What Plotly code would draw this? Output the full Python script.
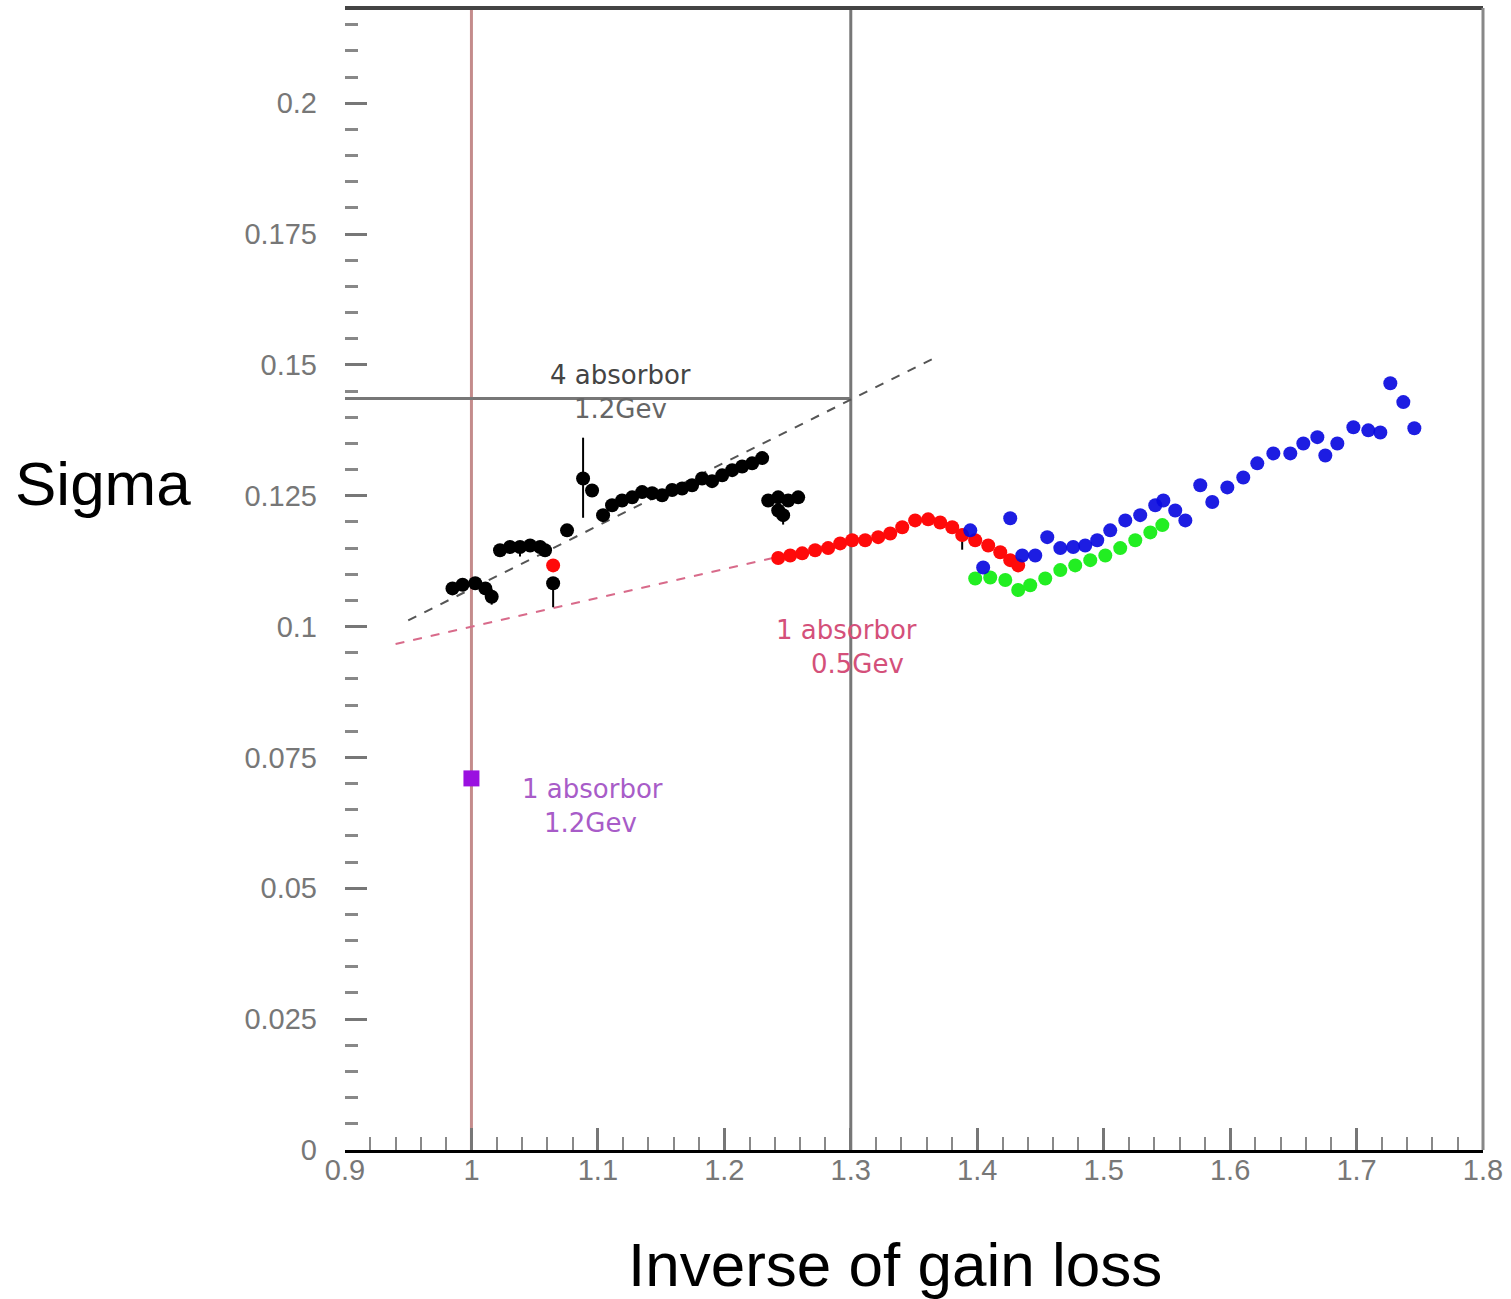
import plotly.graph_objects as go

# ---- data ----
black_x = [0.985, 0.993, 1.003, 1.011, 1.016,
           1.0226, 1.0305, 1.0384, 1.0464, 1.0543, 1.0582,
           1.0646, 1.0756, 1.0883, 1.0954,
           1.1041, 1.1112, 1.1191, 1.1271, 1.135, 1.1429, 1.1508, 1.1587, 1.1666,
           1.1745, 1.1824, 1.1903, 1.1983, 1.2062, 1.2141, 1.222, 1.2299,
           1.2347, 1.2426, 1.2505, 1.2584, 1.2426, 1.2465]
black_y = [0.1073, 0.108, 0.1083, 0.1073, 0.1057,
           0.1146, 0.1152, 0.1152, 0.1155, 0.1152, 0.1146,
           0.1083, 0.1184, 0.1283, 0.126,
           0.1213, 0.1232, 0.1241, 0.1247, 0.1257, 0.1255, 0.1251, 0.1261, 0.1264,
           0.127, 0.1283, 0.1278, 0.1289, 0.1299, 0.1306, 0.1312, 0.1322,
           0.1241, 0.1247, 0.1241, 0.1247, 0.1222, 0.1213]
black_err_plus = [0, 0, 0, 0, 0.0015,
                  0, 0, 0, 0, 0, 0,
                  0, 0, 0.0078, 0,
                  0, 0, 0, 0, 0, 0, 0, 0, 0,
                  0, 0, 0, 0, 0, 0, 0, 0,
                  0, 0, 0, 0, 0, 0.0008]
black_err_minus = [0, 0, 0, 0, 0.0015,
                   0, 0, 0.0018, 0, 0, 0,
                   0.0046, 0, 0.0075, 0,
                   0, 0, 0, 0, 0, 0, 0, 0, 0,
                   0, 0, 0, 0, 0, 0, 0, 0,
                   0, 0, 0, 0, 0, 0.0018]

red_x = [1.0646, 1.2426, 1.2521, 1.2616, 1.2718, 1.2821, 1.2916, 1.3011, 1.3114,
         1.3217, 1.3312, 1.3407, 1.3509, 1.3612, 1.3707, 1.3802, 1.3881, 1.3984,
         1.4087, 1.4182, 1.4261, 1.4324]
red_y = [0.1117, 0.1131, 0.1136, 0.114, 0.1146, 0.115, 0.1159, 0.1165, 0.1165,
         0.1171, 0.1178, 0.119, 0.1203, 0.1205, 0.1199, 0.119, 0.1175, 0.1165,
         0.1155, 0.1142, 0.1127, 0.1117]
red_err_minus = [0, 0, 0, 0, 0, 0, 0, 0, 0,
                 0, 0, 0, 0, 0, 0, 0, 0.0028, 0,
                 0, 0, 0, 0]

green_x = [1.3984, 1.4103, 1.4222, 1.4324, 1.4419, 1.4538, 1.4657, 1.4775,
           1.4894, 1.5013, 1.5131, 1.525, 1.5369, 1.5464]
green_y = [0.1092, 0.1094, 0.1089, 0.107, 0.1079, 0.1092, 0.1108, 0.1117,
           0.1127, 0.1136, 0.115, 0.1165, 0.118, 0.1194]

blue_x = [1.3945, 1.4047, 1.4261, 1.4356, 1.4459, 1.4554, 1.4657, 1.4759, 1.4854,
          1.4949, 1.5052, 1.5171, 1.5289, 1.5408, 1.5472, 1.5566, 1.5646, 1.5764,
          1.5859, 1.5978, 1.6104, 1.6215, 1.6342, 1.6476, 1.6579, 1.669, 1.6753,
          1.6848, 1.6975, 1.7093, 1.7188, 1.7267, 1.737, 1.7457]
blue_y = [0.1184, 0.1113, 0.1207, 0.1136, 0.1136, 0.1171, 0.115, 0.1152, 0.1155,
          0.1165, 0.1184, 0.1203, 0.1213, 0.1232, 0.1241, 0.1222, 0.1203, 0.127,
          0.1238, 0.1266, 0.1285, 0.1312, 0.1331, 0.1331, 0.135, 0.1362, 0.1327,
          0.135, 0.1381, 0.1375, 0.1371, 0.1465, 0.1429, 0.1379]

purple_x = [1.0]
purple_y = [0.071]

fit_black_x = [0.95, 1.37]
fit_black_y = [0.1012, 0.1518]
fit_red_x = [0.94, 1.30]
fit_red_y = [0.0967, 0.1165]

ref_x_red = 1.0
ref_x_gray = 1.3
ref_y_gray = 0.1436

x_ticks = [0.9, 1.0, 1.1, 1.2, 1.3, 1.4, 1.5, 1.6, 1.7, 1.8]
x_ticktext = ["0.9", "1", "1.1", "1.2", "1.3", "1.4", "1.5", "1.6", "1.7", "1.8"]
y_ticks = [0, 0.025, 0.05, 0.075, 0.1, 0.125, 0.15, 0.175, 0.2]
y_ticktext = ["0", "0.025", "0.05", "0.075", "0.1", "0.125", "0.15", "0.175", "0.2"]

# ---- figure ----
fig = go.Figure()

fig.add_trace(go.Scatter(x=fit_red_x, y=fit_red_y, mode="lines",
                         line=dict(color="#d86a8a", width=2, dash="dash"),
                         showlegend=False, hoverinfo="skip"))
fig.add_trace(go.Scatter(x=fit_black_x, y=fit_black_y, mode="lines",
                         line=dict(color="#555555", width=2, dash="dash"),
                         showlegend=False, hoverinfo="skip"))

msize = 14
fig.add_trace(go.Scatter(x=black_x, y=black_y, mode="markers",
                         marker=dict(color="black", size=msize),
                         error_y=dict(type="data", array=black_err_plus,
                                      arrayminus=black_err_minus, color="black",
                                      thickness=2, width=0),
                         showlegend=False))
fig.add_trace(go.Scatter(x=red_x, y=red_y, mode="markers",
                         marker=dict(color="#ff0a0a", size=msize),
                         error_y=dict(type="data", array=[0] * len(red_x),
                                      arrayminus=red_err_minus, color="black",
                                      thickness=2, width=0),
                         showlegend=False))
fig.add_trace(go.Scatter(x=green_x, y=green_y, mode="markers",
                         marker=dict(color="#22ee22", size=msize),
                         showlegend=False))
fig.add_trace(go.Scatter(x=blue_x, y=blue_y, mode="markers",
                         marker=dict(color="#0a0ae0", size=msize, opacity=0.92),
                         showlegend=False))
fig.add_trace(go.Scatter(x=purple_x, y=purple_y, mode="markers",
                         marker=dict(color="#9a10e0", size=16, symbol="square"),
                         showlegend=False))

shapes = [
    dict(type="line", xref="x", yref="paper", x0=ref_x_red, x1=ref_x_red, y0=0, y1=1,
         line=dict(color="#c48c8c", width=3), layer="below"),
    dict(type="line", xref="x", yref="paper", x0=ref_x_gray, x1=ref_x_gray, y0=0, y1=1,
         line=dict(color="#777777", width=3), layer="below"),
    dict(type="line", xref="x", yref="y", x0=0.9, x1=ref_x_gray, y0=ref_y_gray, y1=ref_y_gray,
         line=dict(color="#777777", width=3), layer="below"),
    dict(type="line", xref="paper", yref="paper", x0=0, x1=1, y0=1, y1=1,
         line=dict(color="#444444", width=4)),
    dict(type="line", xref="paper", yref="paper", x0=1, x1=1, y0=0, y1=1,
         line=dict(color="#888888", width=3)),
]

ann_font = "DejaVu Sans"
annotations = [
    dict(x=1.1176, y=0.148, text="4 absorbor", showarrow=False,
         font=dict(family=ann_font, size=26, color="#444444")),
    dict(x=1.1176, y=0.1415, text="1.2Gev", showarrow=False,
         font=dict(family=ann_font, size=26, color="#666666")),
    dict(x=1.297, y=0.0993, text="1 absorbor", showarrow=False,
         font=dict(family=ann_font, size=26, color="#d4507a")),
    dict(x=1.305, y=0.0928, text="0.5Gev", showarrow=False,
         font=dict(family=ann_font, size=26, color="#d4507a")),
    dict(x=1.0954, y=0.0689, text="1 absorbor", showarrow=False,
         font=dict(family=ann_font, size=26, color="#a85cc8")),
    dict(x=1.0938, y=0.0624, text="1.2Gev", showarrow=False,
         font=dict(family=ann_font, size=26, color="#a85cc8")),
    dict(xref="paper", yref="paper", x=-0.2127, y=0.584, text="Sigma", showarrow=False,
         xanchor="center", yanchor="middle",
         font=dict(family="Liberation Sans", size=62, color="black")),
    dict(xref="paper", yref="paper", x=0.4833, y=-0.1007, text="Inverse of gain loss",
         showarrow=False, xanchor="center", yanchor="middle",
         font=dict(family="Liberation Sans", size=62, color="black")),
]

fig.update_layout(
    width=1511, height=1299,
    margin=dict(l=345, r=28, t=8, b=149),
    paper_bgcolor="white", plot_bgcolor="white",
    shapes=shapes, annotations=annotations,
    showlegend=False,
)

fig.update_xaxes(range=[0.9, 1.8], tickvals=x_ticks, ticktext=x_ticktext,
                 showgrid=False, zeroline=False,
                 showline=True, linecolor="black", linewidth=3,
                 ticks="inside", ticklen=22, tickwidth=3, tickcolor="#777777",
                 minor=dict(dtick=0.02, tick0=0.9, ticks="inside", ticklen=13,
                            tickwidth=2, tickcolor="#888888", showgrid=False),
                 tickfont=dict(family="Liberation Sans", size=29, color="#777777"),
                 ticklabelstandoff=-8)
fig.update_yaxes(range=[0, 0.2182], tickvals=y_ticks, ticktext=y_ticktext,
                 showgrid=False, zeroline=False, showline=False,
                 ticks="inside", ticklen=22, tickwidth=3, tickcolor="#777777",
                 minor=dict(dtick=0.005, tick0=0, ticks="inside", ticklen=13,
                            tickwidth=3, tickcolor="#888888", showgrid=False),
                 tickfont=dict(family="Liberation Sans", size=29, color="#777777"),
                 ticklabelstandoff=27)

fig.write_html("out.html")
